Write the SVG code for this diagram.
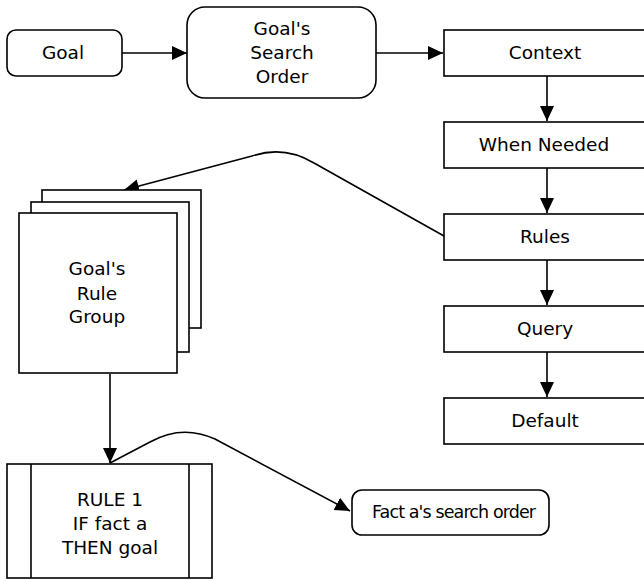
<svg xmlns="http://www.w3.org/2000/svg" width="644" height="581" viewBox="0 0 644 581">
  <style>
    .box { fill: #fff; stroke: #000; stroke-width: 1.6; }
    .lbl { font-family: "DejaVu Sans", Verdana, sans-serif; font-size: 18.5px; fill: #000; text-anchor: middle; }
    .small { font-size: 17.5px; }
    .edge { fill: none; stroke: #000; stroke-width: 1.6; }
  </style>
  <defs>
    <marker id="arrow" markerUnits="userSpaceOnUse" markerWidth="16" markerHeight="16" viewBox="0 0 16 16" refX="15" refY="8" orient="auto">
      <path d="M0,1 L15,8 L0,15 z" fill="#000"/>
    </marker>
  </defs>

  <rect width="644" height="581" fill="#fff"/>

  <!-- connectors -->
  <g id="connectors">
    <line class="edge" x1="122" y1="53" x2="187" y2="53" marker-end="url(#arrow)"/>
    <line class="edge" x1="376" y1="53" x2="443" y2="53" marker-end="url(#arrow)"/>
    <line class="edge" x1="547" y1="76" x2="547" y2="121" marker-end="url(#arrow)"/>
    <line class="edge" x1="547" y1="168" x2="547" y2="213" marker-end="url(#arrow)"/>
    <line class="edge" x1="547" y1="260" x2="547" y2="305" marker-end="url(#arrow)"/>
    <line class="edge" x1="547" y1="352" x2="547" y2="397" marker-end="url(#arrow)"/>
    <!-- Rules back to the rule group -->
    <path class="edge" d="M444,236 L314,163 Q284,145 252,156 L124,190" marker-end="url(#arrow)"/>
    <!-- rule group down to RULE 1 -->
    <line class="edge" x1="110" y1="374" x2="110" y2="463" marker-end="url(#arrow)"/>
    <!-- RULE 1 over to the fact's search order -->
    <path class="edge" d="M110,463 L150,442 Q182,424 215,439 L350,511" marker-end="url(#arrow)"/>
  </g>

  <g id="goal">
    <rect class="box" x="7" y="30" width="115" height="46" rx="9"/>
    <text class="lbl" x="63" y="59">Goal</text>
  </g>

  <g id="search-order">
    <rect class="box" x="187" y="7" width="189" height="91" rx="18"/>
    <text class="lbl" x="282" y="35">Goal's</text>
    <text class="lbl" x="282" y="59">Search</text>
    <text class="lbl" x="282" y="83">Order</text>
  </g>

  <g id="context">
    <rect class="box" x="444" y="30" width="204" height="46"/>
    <text class="lbl" x="545" y="59">Context</text>
  </g>

  <g id="when-needed">
    <rect class="box" x="444" y="122" width="204" height="46"/>
    <text class="lbl" x="544" y="151">When Needed</text>
  </g>

  <g id="rules">
    <rect class="box" x="444" y="214" width="204" height="46"/>
    <text class="lbl" x="545" y="243">Rules</text>
  </g>

  <g id="query">
    <rect class="box" x="444" y="306" width="204" height="46"/>
    <text class="lbl" x="545" y="335">Query</text>
  </g>

  <g id="default">
    <rect class="box" x="444" y="398" width="204" height="46"/>
    <text class="lbl" x="545" y="427">Default</text>
  </g>

  <g id="rule-group">
    <rect class="box" x="42" y="190" width="159" height="138"/>
    <rect class="box" x="31" y="202" width="158" height="150"/>
    <rect class="box" x="19" y="213" width="158" height="160"/>
    <text class="lbl" x="97" y="275">Goal's</text>
    <text class="lbl" x="97" y="300">Rule</text>
    <text class="lbl" x="97" y="323">Group</text>
  </g>

  <g id="rule-1">
    <rect class="box" x="7" y="464" width="205" height="114"/>
    <line class="edge" x1="31" y1="464" x2="31" y2="578"/>
    <line class="edge" x1="189" y1="464" x2="189" y2="578"/>
    <text class="lbl" x="110" y="506">RULE 1</text>
    <text class="lbl" x="110" y="530">IF fact a</text>
    <text class="lbl" x="110" y="554">THEN goal</text>
  </g>

  <g id="fact-search-order">
    <rect class="box" x="352" y="490" width="197" height="45" rx="10"/>
    <text class="lbl small" x="454" y="518" textLength="164" lengthAdjust="spacing">Fact a's search order</text>
  </g>
</svg>
